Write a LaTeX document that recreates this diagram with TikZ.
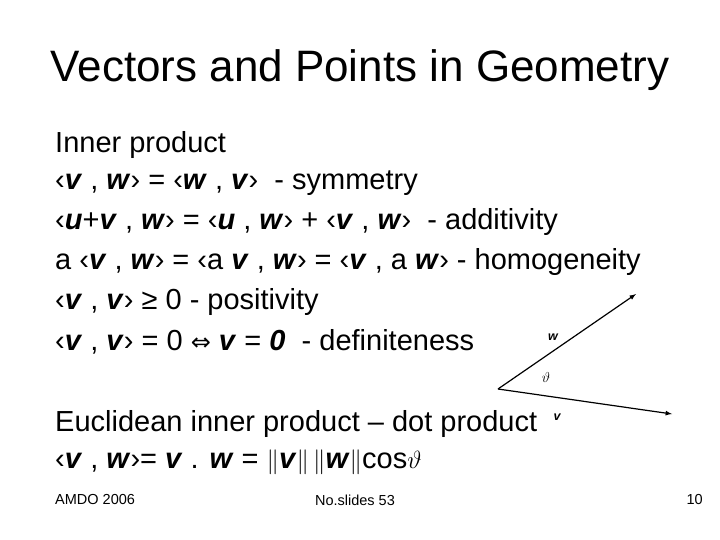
\documentclass[tikz,border=0pt]{standalone}
\usepackage{fontspec}
\setmainfont{Liberation Sans}
\newfontfamily\myarrowfont{DejaVu Sans}
\begin{document}
\begin{tikzpicture}[x=1pt,y=-1pt,
  line/.style={anchor=west,inner sep=0pt,font=\fontsize{29}{32}\selectfont},
  foot/.style={inner sep=0pt,font=\fontsize{14.5}{16}\selectfont},
  vec/.style={-latex,line width=1.2pt},
  lab/.style={inner sep=0pt,font=\fontsize{12.5}{14}\selectfont\bfseries\itshape}]
\useasboundingbox (0,0) rectangle (720,540);
\node[inner sep=0pt,font=\fontsize{44}{48}\selectfont] (title) at (360,70) {Vectors and Points in Geometry};
\node[line] (l1) at (55,145) {Inner product};
\node[line] (l2) at (55,183) {‹\textbf{\textit{v}} , \textbf{\textit{w}}› = ‹\textbf{\textit{w}} , \textbf{\textit{v}}›\ \ - symmetry};
\node[line] (l3) at (55,222) {‹\textbf{\textit{u}}+\textbf{\textit{v}} , \textbf{\textit{w}}› = ‹\textbf{\textit{u}} , \textbf{\textit{w}}› + ‹\textbf{\textit{v}} , \textbf{\textit{w}}›\ \ - additivity};
\node[line] (l4) at (55,262) {a ‹\textbf{\textit{v}} , \textbf{\textit{w}}› = ‹a \textbf{\textit{v}} , \textbf{\textit{w}}› = ‹\textbf{\textit{v}} , a \textbf{\textit{w}}› - homogeneity};
\node[line] (l5) at (55,302) {‹\textbf{\textit{v}} , \textbf{\textit{v}}› ≥ 0 - positivity};
\node[line] (l6) at (55,342) {‹\textbf{\textit{v}} , \textbf{\textit{v}}› = 0 {\myarrowfont\fontsize{24}{28}\selectfont ⇔} \textbf{\textit{v}} = \textbf{\textit{0}}\ \ - definiteness};
\node[line] (l7) at (55,424) {Euclidean inner product – dot product};
\node[line] (l8) at (55,462) {‹\textbf{\textit{v}} , \textbf{\textit{w}}›= \textbf{\textit{v}} . \textbf{\textit{w}} = $\Big\|$\textbf{\textit{v}}$\Big\|\,\Big\|$\textbf{\textit{w}}$\Big\|$cos$\vartheta$};
\coordinate (o) at (498,389);
\coordinate (wt) at (636,294);
\coordinate (vt) at (672,414);
\draw[vec] (o) -- (wt);
\draw[vec] (o) -- (vt);
\node[lab] (wl) at (553,337) {w};
\node[lab] (vl) at (557,417) {v};
\node[inner sep=0pt,font=\fontsize{14}{16}\selectfont] (th) at (546,377) {$\vartheta$};
\node[foot,anchor=west] (f1) at (55,500) {AMDO 2006};
\node[foot] (f2) at (355,500) {No.slides 53};
\node[foot,anchor=east] (f3) at (703,500) {10};
\end{tikzpicture}
\end{document}
